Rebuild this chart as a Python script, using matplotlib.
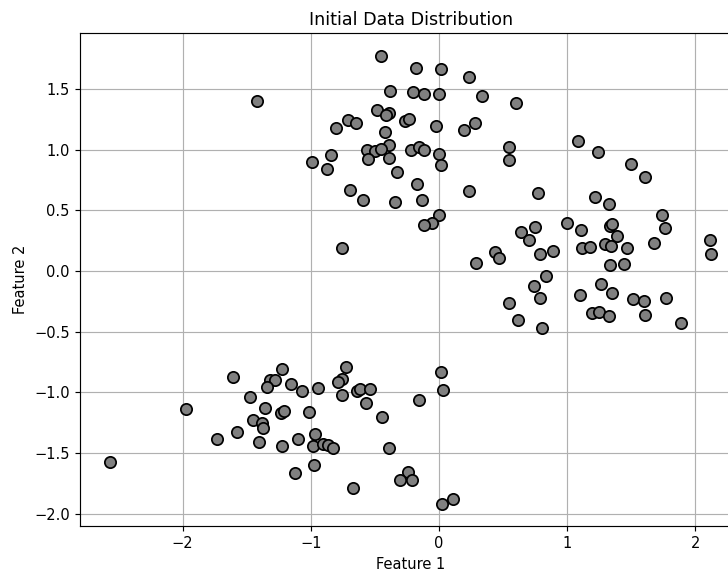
import matplotlib
matplotlib.use("Agg")
import matplotlib.pyplot as plt
import numpy as np

# Feature 1 / Feature 2 values
feature1 = [
    # upper group
    -0.451, -0.180, 0.015, 0.233, -0.379, -0.199, -0.113, 0.000, 0.335, -0.485,
    -0.386, -0.412, -0.709, -0.644, -0.264, -0.235, 0.280, -0.800, -0.020, 0.194,
    -0.422, -0.389, -0.563, -0.500, -0.451, -0.217, -0.157, -0.118, 0.000, 0.544,
    0.550, -0.990, -0.839, -0.550, -0.386, -0.873, 0.015, -0.324, -0.170, -0.696,
    0.238, -0.594, -0.344, -0.129, 0.004, -0.051, -0.116, -1.419, -0.758, 0.603,
    1.089,
    # right group
    1.245, 1.498, 1.612, 0.772, 1.222, 1.329, 1.740, 1.001, 1.112, 1.334,
    1.350, 1.768, 0.749, 0.642, 0.704, 1.391, 2.115, 2.127, 1.682, 1.120,
    1.180, 1.300, 1.344, 1.467, 0.441, 0.472, 0.891, 0.790, 0.293, 1.339,
    1.443, 0.839, 0.743, 1.266, 0.790, 1.102, 1.354, 1.514, 1.602, 1.776,
    0.550, 0.618, 1.198, 1.248, 1.326, 1.612, 1.893, 0.808,
    # lower group
    -1.609, -1.226, -1.318, -1.279, -1.343, -1.154, -1.070, -0.945, -0.727, -0.753,
    -0.789, -0.756, -0.641, -0.613, -0.537, -0.568, -0.441, -1.976, -1.471, -1.357,
    -1.450, -1.380, -1.370, -1.234, -1.208, -1.011, -1.731, -1.575, -1.401, -1.226,
    -1.099, -0.969, -0.980, -0.902, -0.865, -0.826, -0.974, -1.123, -0.672, 0.017,
    0.030, -0.152, -0.389, -0.238, -0.305, -0.212, 0.025, 0.113, -2.567,
]
feature2 = [
    # upper group
    1.776, 1.674, 1.663, 1.600, 1.487, 1.473, 1.460, 1.460, 1.440, 1.330,
    1.303, 1.286, 1.245, 1.220, 1.237, 1.256, 1.225, 1.176, 1.200, 1.165,
    1.149, 1.039, 0.998, 0.989, 1.006, 0.998, 1.022, 0.998, 0.969, 1.025,
    0.917, 0.901, 0.953, 0.926, 0.936, 0.843, 0.874, 0.813, 0.719, 0.672,
    0.662, 0.590, 0.571, 0.585, 0.466, 0.400, 0.381, 1.404, 0.191, 1.382,
    1.072,
    # right group
    0.978, 0.879, 0.775, 0.645, 0.612, 0.557, 0.466, 0.395, 0.340, 0.370,
    0.384, 0.356, 0.367, 0.323, 0.257, 0.285, 0.252, 0.144, 0.235, 0.194,
    0.202, 0.222, 0.210, 0.186, 0.153, 0.106, 0.164, 0.139, 0.068, 0.051,
    0.057, -0.037, -0.125, -0.103, -0.219, -0.196, -0.177, -0.229, -0.248, -0.219,
    -0.260, -0.400, -0.342, -0.337, -0.370, -0.361, -0.427, -0.471,
    # lower group
    -0.873, -0.809, -0.895, -0.895, -0.955, -0.928, -0.991, -0.964, -0.790, -0.892,
    -0.917, -1.019, -0.986, -0.974, -0.972, -1.090, -1.203, -1.139, -1.038, -1.126,
    -1.230, -1.250, -1.294, -1.172, -1.156, -1.162, -1.384, -1.324, -1.407, -1.445,
    -1.384, -1.343, -1.445, -1.428, -1.436, -1.456, -1.597, -1.663, -1.786, -0.829,
    -0.978, -1.060, -1.461, -1.654, -1.723, -1.725, -1.918, -1.882, -1.574,
]

title = "Initial Data Distribution"
xlabel = "Feature 1"
ylabel = "Feature 2"

W, H, DPI = 728, 575, 105
fig = plt.figure(figsize=(W / DPI, H / DPI), dpi=DPI)
# axes extends slightly past the right edge (reference is cropped there)
left_px, right_px, top_px, bottom_px = 80.0, 741.4, 33.3, 526.0
ax = fig.add_axes([left_px / W, (H - bottom_px) / H,
                   (right_px - left_px) / W, (bottom_px - top_px) / H])

ax.scatter(feature1, feature2, s=60, c="gray", edgecolors="black", linewidths=1.2, zorder=3)
ax.grid(True, zorder=0)
ax.set_axisbelow(True)
ax.set_title(title, fontsize=12)
ax.set_xlabel(xlabel, fontsize=10)
ax.set_ylabel(ylabel, fontsize=10)
ax.tick_params(labelsize=10)

fig.savefig("out.png", dpi=DPI)
